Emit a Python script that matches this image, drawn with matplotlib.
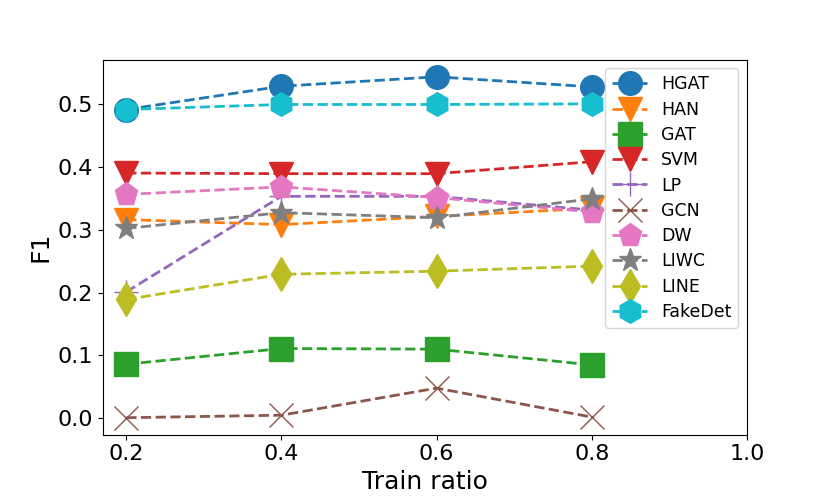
import matplotlib
matplotlib.use("Agg")
import matplotlib.pyplot as plt

# train ratios and F1 scores
ratios = [0.2, 0.4, 0.6, 0.8]

hgat = [0.491, 0.528, 0.543, 0.527]
han = [0.316, 0.308, 0.321, 0.334]
gat = [0.086, 0.111, 0.110, 0.085]
svm = [0.390, 0.389, 0.389, 0.408]
lp = [0.201, 0.353, 0.353, 0.331]
gcn = [0.001, 0.005, 0.048, 0.002]
dw = [0.356, 0.368, 0.351, 0.328]
liwc = [0.302, 0.327, 0.319, 0.349]
line = [0.189, 0.229, 0.234, 0.242]
fakedet = [0.491, 0.499, 0.499, 0.500]

methods = ["HGAT", "HAN", "GAT", "SVM", "LP", "GCN", "DW", "LIWC", "LINE", "FakeDet"]
scores = [hgat, han, gat, svm, lp, gcn, dw, liwc, line, fakedet]
markers = ["o", "v", "s", "v", "+", "x", "p", "*", "d", "h"]

fig = plt.figure(figsize=(8.3, 4.98), dpi=100)
ax = fig.add_subplot(111)
fig.subplots_adjust(left=0.124, right=0.9, top=0.88, bottom=0.127)

for i in range(len(methods)):
    ax.plot(ratios, scores[i], linestyle="--", marker=markers[i], markersize=17,
            linewidth=2, color="C%d" % i, label=methods[i])

ax.set_xticks([0.2, 0.4, 0.6, 0.8, 1.0])
ax.tick_params(labelsize=16)
ax.set_xlabel("Train ratio", fontsize=18)
ax.set_ylabel("F1", fontsize=18)
ax.legend(loc="upper right", fontsize=12.5, labelspacing=0.42)

plt.savefig("out.png")
